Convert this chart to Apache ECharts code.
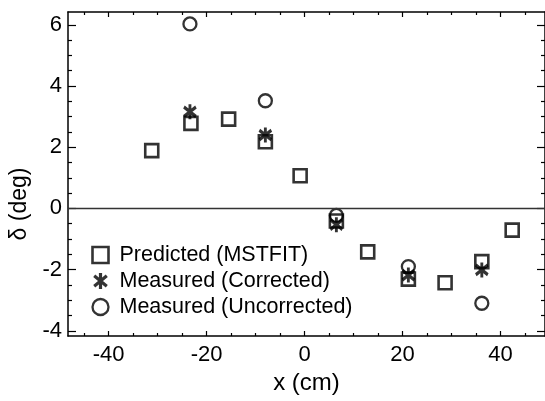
<!DOCTYPE html>
<html>
<head>
<meta charset="utf-8">
<script src="https://cdn.jsdelivr.net/npm/echarts@6/dist/echarts.min.js"></script>
<style>
  html, body { margin: 0; padding: 0; background: #fff; }
  #chart { width: 545px; height: 401px; }
</style>
</head>
<body>
<div id="chart"></div>
<script>
// ---- data ----
const seriesNames = ['Predicted (MSTFIT)', 'Measured (Corrected)', 'Measured (Uncorrected)'];
const predX = [-31.2, -23.2, -15.5, -8.0, -0.9, 6.5, 12.9, 21.2, 28.7, 36.2, 42.4];
const predY = [1.89, 2.78, 2.92, 2.18, 1.07, -0.41, -1.42, -2.31, -2.43, -1.74, -0.71];
const measX = [-23.4, -8.0, 6.5, 21.2, 36.2];
const corrY = [3.16, 2.40, -0.53, -2.18, -2.01];
const uncorrY = [6.03, 3.52, -0.23, -1.90, -3.10];
const xTickLabels = [-40, -20, 0, 20, 40];
const yTickLabels = [-4, -2, 0, 2, 4, 6];
const xName = 'x (cm)';
const yName = 'δ (deg)';
const zeroLine = [0];

// minor ticks between labelled ticks
function minors(labels, step, lo, hi) {
  const out = [];
  const d = labels[1] - labels[0];
  for (let v = labels[0] - d; v <= labels[labels.length - 1] + d; v += step) {
    const r = Math.round(v * 100) / 100;
    if (r > lo && r < hi && labels.indexOf(r) < 0) out.push(r);
  }
  return out;
}

const X_MIN = -48.3, X_MAX = 49.1, Y_MIN = -4.17, Y_MAX = 6.42;
const xMinor = minors(xTickLabels, 5, X_MIN, X_MAX);
const yMinor = minors(yTickLabels, 0.5, Y_MIN, Y_MAX);

const FONT = 'Liberation Sans, Arial, Helvetica, sans-serif';
const ASTERISK = 'path://M0,-7L0,7M-5.5,-4.5L5.5,4.5M-5.5,4.5L5.5,-4.5';

const styles = [
  { symbol: 'rect', size: 13, item: { color: 'none', borderColor: '#000', borderWidth: 2.6 } },
  { symbol: ASTERISK, size: [12, 15], item: { color: 'none', borderColor: '#000', borderWidth: 3.2 } },
  { symbol: 'circle', size: 13, item: { color: 'none', borderColor: '#000', borderWidth: 2.3 } }
];

function zip(xs, ys) { return xs.map((x, i) => [x, ys[i]]); }

function xAx(pos, ticks, len, labels, line) {
  return {
    type: 'value', position: pos, min: X_MIN, max: X_MAX, gridIndex: 0,
    axisLine: { show: line, onZero: false, lineStyle: { color: '#000', width: 1.5 } },
    axisTick: { show: true, inside: true, length: len, customValues: ticks, lineStyle: { color: '#000', width: 1.2 } },
    axisLabel: labels ? { show: true, customValues: xTickLabels, margin: 8, color: '#000', fontSize: 22, fontFamily: FONT } : { show: false },
    splitLine: { show: false },
    name: labels ? xName : '', nameLocation: 'middle', nameGap: 30,
    nameTextStyle: { fontSize: 24, color: '#000', fontFamily: FONT }
  };
}
function yAx(pos, ticks, len, labels, line) {
  return {
    type: 'value', position: pos, min: Y_MIN, max: Y_MAX, gridIndex: 0,
    axisLine: { show: line, onZero: false, lineStyle: { color: '#000', width: 1.5 } },
    axisTick: { show: true, inside: true, length: len, customValues: ticks, lineStyle: { color: '#000', width: 1.2 } },
    axisLabel: labels ? { show: true, customValues: yTickLabels, margin: 6, color: '#000', fontSize: 22, fontFamily: FONT } : { show: false },
    splitLine: { show: false },
    name: labels ? yName : '', nameLocation: 'middle', nameGap: 21, nameRotate: 90,
    nameTextStyle: { fontSize: 23, color: '#000', fontFamily: FONT, padding: [0, 60, 0, 0] }
  };
}

const chart = echarts.init(document.getElementById('chart'), null, { renderer: 'canvas' });
chart.setOption({
  animation: false,
  backgroundColor: '#fff',
  grid: { left: 68, top: 12, width: 478, height: 324, containLabel: false },
  xAxis: [
    xAx('bottom', xTickLabels, 5, true, true),
    xAx('bottom', xMinor, 3, false, false),
    xAx('top', xTickLabels, 5, false, true),
    xAx('top', xMinor, 3, false, false)
  ],
  yAxis: [
    yAx('left', yTickLabels, 8, true, true),
    yAx('left', yMinor, 4, false, false),
    yAx('right', yTickLabels, 8, false, true),
    yAx('right', yMinor, 4, false, false)
  ],
  legend: {
    orient: 'vertical', left: 90, top: 244, padding: 0,
    itemWidth: 16, itemHeight: 16, itemGap: 4,
    textStyle: { fontSize: 21.5, color: '#000', fontFamily: FONT, padding: [0, 0, 0, 6] },
    data: seriesNames.map((n, i) => ({ name: n, icon: styles[i].symbol, itemStyle: styles[i].item }))
  },
  series: [
    {
      name: seriesNames[0], type: 'scatter', xAxisIndex: 0, yAxisIndex: 0,
      symbol: styles[0].symbol, symbolSize: styles[0].size, itemStyle: styles[0].item,
      data: zip(predX, predY),
      markLine: {
        silent: true, symbol: ['none', 'none'], label: { show: false },
        lineStyle: { color: '#333', width: 1.4, type: 'solid' },
        data: zeroLine.map(v => ({ yAxis: v }))
      }
    },
    {
      name: seriesNames[2], type: 'scatter', xAxisIndex: 0, yAxisIndex: 0,
      symbol: styles[2].symbol, symbolSize: styles[2].size, itemStyle: styles[2].item,
      data: zip(measX, uncorrY)
    },
    {
      name: seriesNames[1], type: 'scatter', xAxisIndex: 0, yAxisIndex: 0,
      symbol: styles[1].symbol, symbolSize: styles[1].size, itemStyle: styles[1].item,
      data: zip(measX, corrY)
    }
  ]
});
</script>
</body>
</html>
